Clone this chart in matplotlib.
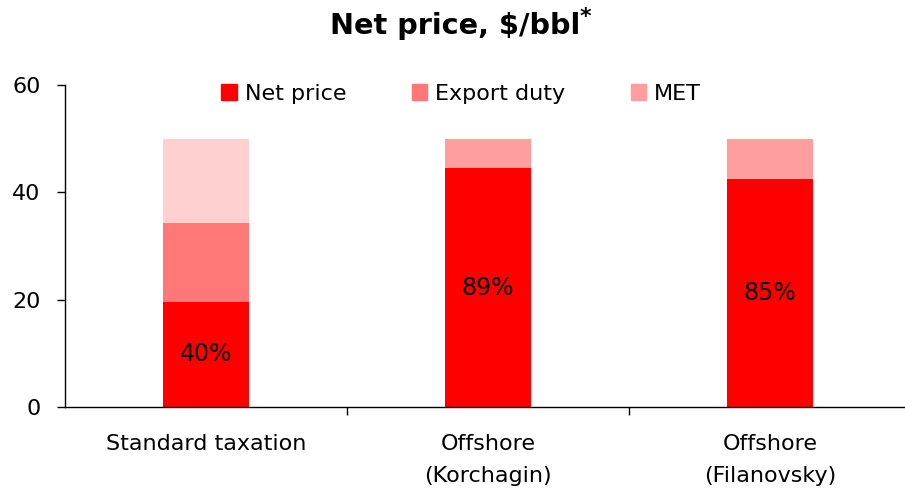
import matplotlib
matplotlib.use("Agg")
import matplotlib.pyplot as plt
import numpy as np
from matplotlib.patches import Patch

categories = ["Standard taxation", "Offshore\n(Korchagin)", "Offshore\n(Filanovsky)"]
net_price = [19.6, 44.5, 42.4]
export_duty = [14.7, 0.0, 0.0]
met = [15.7, 5.5, 7.6]
pct_labels = ["40%", "89%", "85%"]
yticks = [0, 20, 40, 60]

plt.rcParams['font.family'] = ['DejaVu Sans']

fig = plt.figure(figsize=(9.05, 4.92), dpi=100)
ax = fig.add_axes([65/905, (492-407)/492, 846/905, 322/492])

x = np.arange(len(categories))
w = 0.305
c_net = "#FF0000"
c_exp = "#FF7878"
c_met = "#FF9E9E"
met_colors = ["#FFD0D0", c_met, c_met]

ax.bar(x, net_price, w, color=c_net, label="Net price")
ax.bar(x, export_duty, w, bottom=net_price, color=c_exp, label="Export duty")
bottoms = np.array(net_price) + np.array(export_duty)
ax.bar(x, met, w, bottom=bottoms, color=met_colors, label="MET")

for xi, v, lab in zip(x, net_price, pct_labels):
    ax.text(xi, v / 2, lab, ha="center", va="center", fontsize=17, color="black")

ax.set_xlim(-0.5, 2.5)
ax.set_ylim(0, 60)
ax.set_yticks(yticks)
ax.tick_params(axis="y", direction="out", length=6, labelsize=16, pad=11.5, width=1)
ax.set_xticks(x)
ax.set_xticklabels(categories, fontsize=16, linespacing=1.72)
ax.tick_params(axis="x", which="major", length=0, pad=19.5)
ax.set_xticks([0.5, 1.5], minor=True)
ax.tick_params(axis="x", which="minor", direction="out", length=6, width=1)

for s in ["top", "right"]:
    ax.spines[s].set_visible(False)
for s in ["left", "bottom"]:
    ax.spines[s].set_linewidth(1)
    ax.spines[s].set_color("black")

handles = [Patch(color=c_net, label="Net price"),
           Patch(color=c_exp, label="Export duty"),
           Patch(color=c_met, label="MET")]
leg = ax.legend(handles=handles, loc="center", bbox_to_anchor=((461 - 65)/846, 1 - 9/322), ncol=3,
                frameon=False, fontsize=16, handlelength=0.7, handleheight=0.7,
                handletextpad=0.35, columnspacing=2.95)

fig.text(455/905, 1 - 26/492, "Net price, $/bbl", ha="center", va="center",
         fontsize=20.7, fontweight="bold")
fig.text(580/905, 1 - 17/492, "*", ha="left", va="center", fontsize=16, fontweight="bold")

fig.savefig("out.png", dpi=100)
